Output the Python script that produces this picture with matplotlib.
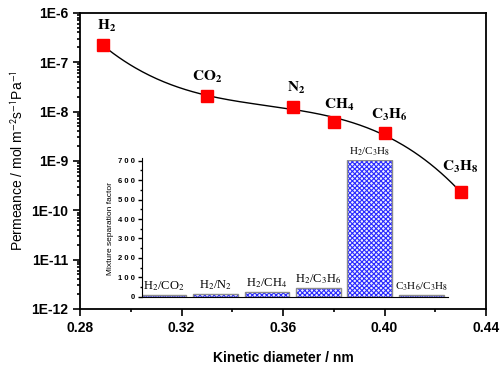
import numpy as np
import matplotlib
matplotlib.use('Agg')
import matplotlib.pyplot as plt
from matplotlib.ticker import LogLocator, NullFormatter, MultipleLocator

# kinetic diameter (nm) and single gas permeance (mol m-2 s-1 Pa-1)
GASES = ['H_2', 'CO_2', 'N_2', 'CH_4', 'C_3H_6', 'C_3H_8']
DIAM = [0.289, 0.330, 0.364, 0.380, 0.400, 0.430]
PERM = [2.2e-7, 2.1e-8, 1.25e-8, 6.2e-9, 3.7e-9, 2.3e-10]

# mixture separation factors (inset)
PAIRS = ['H$_2$/CO$_2$', 'H$_2$/N$_2$', 'H$_2$/CH$_4$', 'H$_2$/C$_3$H$_6$',
         'H$_2$/C$_3$H$_8$', 'C$_3$H$_6$/C$_3$H$_8$']
SEP = [8, 15, 27, 46, 705, 10]

plt.rcParams['font.family'] = ['Liberation Sans', 'DejaVu Sans']
plt.rcParams['mathtext.fontset'] = 'stix'
plt.rcParams['hatch.linewidth'] = 0.8

fig = plt.figure(figsize=(5, 3.73), dpi=100)
ax = fig.add_axes([0.16, 0.1716, 0.812, 0.794])

# trend line: cubic fit in log space
coef = np.polyfit(DIAM, np.log10(PERM), 3)
xf = np.linspace(min(DIAM), max(DIAM), 200)
ax.plot(xf, 10**np.polyval(coef, xf), color='k', lw=1.0, zorder=2)
ax.plot(DIAM, PERM, ls='', marker='s', ms=8, color='#ff0000', mec='#ff0000', zorder=3)

offs = [(4, 19), (0, 19), (3, 19), (5, 17), (5, 18), (0, 25)]
for g, x, y, o in zip(GASES, DIAM, PERM, offs):
    ax.annotate(r'$\mathbf{%s}$' % g, (x, y), xytext=o, textcoords='offset pixels',
                ha='center', va='center', fontsize=11)

ax.set_yscale('log')
ax.set_xlim(0.28, 0.44)
ax.set_ylim(1e-12, 1e-6)
ax.set_xticks([0.28, 0.32, 0.36, 0.40, 0.44])
ax.set_xticks([0.30, 0.34, 0.38, 0.42], minor=True)
ax.set_xticklabels(['0.28', '0.32', '0.36', '0.40', '0.44'])
ax.yaxis.set_minor_locator(LogLocator(base=10, subs=np.arange(2, 10), numticks=20))
ax.yaxis.set_minor_formatter(NullFormatter())
ax.set_yticks([10.0**e for e in range(-12, -5)])
ax.set_yticklabels(['1E%d' % e for e in range(-12, -5)])
ax.tick_params(which='both', direction='out', top=False, right=False, width=1.2)
ax.tick_params(which='major', length=5, labelsize=10)
ax.tick_params(which='minor', length=2.5)
for lbl in ax.get_xticklabels() + ax.get_yticklabels():
    lbl.set_fontweight('bold')
for s in ax.spines.values():
    s.set_linewidth(1.3)

ax.set_xlabel('Kinetic diameter / nm', fontsize=10, fontweight='bold', labelpad=12)
ax.set_ylabel('Permeance / mol m$^{\\mathsf{-2}}$s$^{\\mathsf{-1}}$Pa$^{\\mathsf{-1}}$',
              fontsize=10, labelpad=4)

# inset bar chart
ins = fig.add_axes([0.284, 0.204, 0.612, 0.368])
ins.patch.set_alpha(0)
pos = np.arange(len(SEP))
ins.bar(pos, SEP, width=0.87, color='#eef0ff', edgecolor='#2a2aff', hatch='xxxxxxx', lw=0)
ins.bar(pos, SEP, width=0.87, color='none', edgecolor='#8c8c8c', lw=1.0)
fs = [9, 9, 9, 9, 8, 8]
for p, v, t, f in zip(pos, SEP, PAIRS, fs):
    ins.annotate(t, (p, v), xytext=(0, 2), textcoords='offset pixels',
                 ha='center', va='bottom', fontsize=f, family='Liberation Serif')
ins.set_xlim(-0.43, 5.52)
ins.set_ylim(0, 705)
ins.set_xticks([])
ins.yaxis.set_minor_locator(MultipleLocator(50))
ins.set_yticks(range(0, 701, 100))
ins.set_yticklabels([' '.join(str(v)) for v in range(0, 701, 100)])
ins.tick_params(axis='y', which='both', direction='out', width=1)
ins.tick_params(axis='y', which='major', length=3, labelsize=5.5, pad=2)
ins.tick_params(axis='y', which='minor', length=1.5)
for lbl in ins.get_yticklabels():
    lbl.set_fontweight('bold')
ins.spines['top'].set_visible(False)
ins.spines['right'].set_visible(False)
ins.spines['left'].set_bounds(0, 712)
ins.set_ylabel('Mixture separation factor', fontsize=6, labelpad=3)

fig.savefig('out.png', dpi=100)
